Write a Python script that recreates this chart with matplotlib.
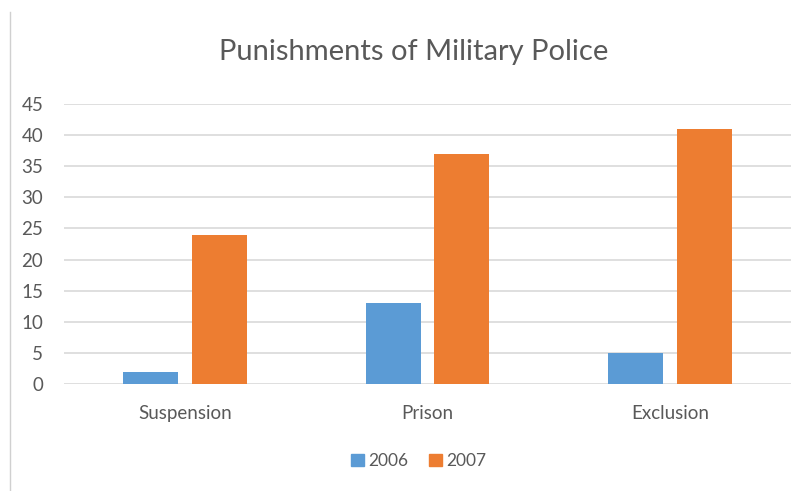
import numpy as np
import matplotlib.pyplot as plt
from matplotlib.lines import Line2D
from matplotlib.patches import Patch

categories = ["Suspension", "Prison", "Exclusion"]
values_2006 = [2, 13, 5]
values_2007 = [24, 37, 41]
series_names = ["2006", "2007"]
yticks = [0, 5, 10, 15, 20, 25, 30, 35, 40, 45]

blue = "#5B9BD5"
orange = "#ED7D31"
text_gray = "#595959"
grid_gray = "#D9D9D9"

plt.rcParams['font.family'] = ['Lato', 'DejaVu Sans']

fig = plt.figure(figsize=(8.07, 4.91), dpi=100)
ax = fig.add_axes([64 / 807, 1 - 384 / 491, (791 - 64) / 807, 280 / 491])

x = np.arange(len(categories))
width = 0.227
offset = 0.142
ax.bar(x - offset, values_2006, width, color=blue, zorder=3)
ax.bar(x + offset, values_2007, width, color=orange, zorder=3)

ax.set_xlim(-0.5, len(categories) - 0.5)
ax.set_ylim(0, 45)
ax.set_yticks(yticks)
ax.yaxis.grid(True, color=grid_gray, linewidth=1.2)
ax.set_axisbelow(True)
for side in ["top", "right", "left", "bottom"]:
    ax.spines[side].set_visible(False)
ax.tick_params(axis="both", length=0, colors=text_gray, labelsize=13.5)
ax.tick_params(axis="y", pad=15)
ax.tick_params(axis="x", pad=15)
ax.set_xticks(x)
ax.set_xticklabels(categories)

fig.text(414 / 807, 1 - 52 / 491, "Punishments of Military Police",
         ha="center", va="center", fontsize=21, color=text_gray)

handles = [Patch(color=blue), Patch(color=orange)]
fig.legend(handles, series_names, loc="center", bbox_to_anchor=(419 / 807, 1 - 461 / 491),
           ncol=2, frameon=False, fontsize=12.5, labelcolor=text_gray,
           handlelength=0.75, handleheight=0.75, handletextpad=0.25, columnspacing=1.2)

# thin border on the left edge
fig.add_artist(Line2D([10 / 807, 10 / 807], [0, 1 - 12 / 491],
                      transform=fig.transFigure, color="#D0D0D0", linewidth=1))

fig.savefig("out.png", dpi=100)
